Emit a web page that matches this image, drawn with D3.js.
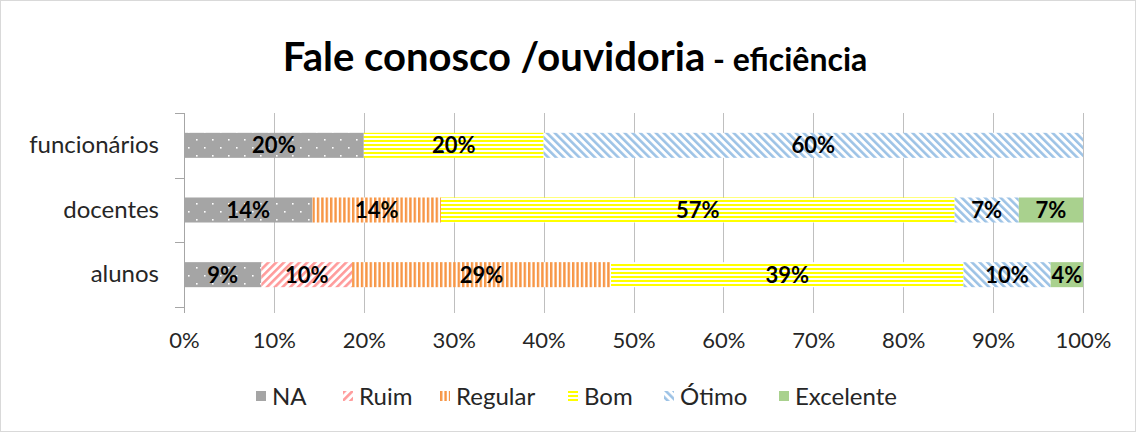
<!DOCTYPE html>
<html>
<head>
<meta charset="utf-8">
<script src="https://cdn.jsdelivr.net/npm/d3@7"></script>
<style>
  html, body { margin: 0; padding: 0; background: #fff; }
  svg { display: block; font-family: Lato, "Open Sans", sans-serif; }
</style>
</head>
<body>
<svg id="chart" width="1136" height="432"></svg>
<script>
// Categories (top to bottom) and the share of answers per rating, in percent
const categories = ["funcionários", "docentes", "alunos"];
const seriesNames = ["NA", "Ruim", "Regular", "Bom", "Ótimo", "Excelente"];
const na        = [20, 14.29, 8.6];
const ruim      = [0, 0, 10.1];
const regular   = [0, 14.29, 28.8];
const bom       = [20, 57.14, 39.2];
const otimo     = [60, 7.14, 9.7];
const excelente = [0, 7.14, 3.6];
const tickValues = [0, 10, 20, 30, 40, 50, 60, 70, 80, 90, 100];
const titleMain = "Fale conosco /ouvidoria";
const titleSub = "- eficiência";

const seriesValues = [na, ruim, regular, bom, otimo, excelente];
const rows = categories.map((c, i) => {
  const r = { cat: c };
  seriesNames.forEach((s, k) => { r[s] = seriesValues[k][i]; });
  return r;
});

const svg = d3.select("#chart");
const W = 1136, H = 432;
const plot = { left: 184, right: 1083, top: 113, bottom: 307 };

// chart area border
svg.append("rect")
  .attr("x", 0.5).attr("y", 0.5).attr("width", W - 1).attr("height", H - 1)
  .attr("fill", "#fff").attr("stroke", "#d9d9d9");

// fill patterns
const defs = svg.append("defs");
function stripePattern(id, color, period, width, angle) {
  const p = defs.append("pattern").attr("id", id)
    .attr("patternUnits", "userSpaceOnUse")
    .attr("width", period).attr("height", period)
    .attr("patternTransform", `rotate(${angle})`);
  p.append("rect").attr("width", period).attr("height", period).attr("fill", "#fff");
  p.append("rect").attr("x", 0).attr("y", 0).attr("width", width).attr("height", period).attr("fill", color);
}
// dotted grey
{
  const p = defs.append("pattern").attr("id", "pNA")
    .attr("patternUnits", "userSpaceOnUse")
    .attr("x", plot.left).attr("y", 0)
    .attr("width", 16).attr("height", 16);
  p.append("rect").attr("width", 16).attr("height", 16).attr("fill", "#a5a5a5");
  p.append("rect").attr("x", 4).attr("y", 3).attr("width", 1.6).attr("height", 1.6).attr("fill", "#fff");
  p.append("rect").attr("x", 12).attr("y", 11).attr("width", 1.6).attr("height", 1.6).attr("fill", "#fff");
}
stripePattern("pRuim", "#ff9b9b", 5.5, 2.6, 45);
stripePattern("pRegular", "#f79646", 4.4, 2.4, 0);
stripePattern("pBom", "#ffff00", 4, 2, 90);
stripePattern("pOtimo", "#9dc3e6", 5.5, 2.6, -45);

const fills = {
  "NA": "url(#pNA)",
  "Ruim": "url(#pRuim)",
  "Regular": "url(#pRegular)",
  "Bom": "url(#pBom)",
  "Ótimo": "url(#pOtimo)",
  "Excelente": "#a9d18e"
};

// scales
const x = d3.scaleLinear().domain([0, 100]).range([plot.left, plot.right]);
const y = d3.scaleBand().domain(categories).range([plot.top, plot.bottom])
  .paddingInner(0.613).paddingOuter(0.3065);

// gridlines and value labels
const xAxis = d3.axisBottom(x)
  .tickValues(tickValues)
  .tickFormat(d => d + "%")
  .tickSizeInner(-(plot.bottom + 6 - plot.top))
  .tickSizeOuter(0)
  .tickPadding(19);
const gx = svg.append("g")
  .attr("transform", `translate(0,${plot.bottom + 6})`)
  .call(xAxis);
gx.select(".domain").remove();
gx.selectAll(".tick line").attr("stroke", "#bfbfbf").attr("shape-rendering", "crispEdges");
gx.selectAll(".tick text")
  .attr("fill", "#262626")
  .style("font-size", "22px")
  .style("font-family", "Lato, sans-serif");

// category axis
const yAxis = d3.axisLeft(y).tickSize(0).tickPadding(25);
const gy = svg.append("g").attr("transform", `translate(${plot.left},0)`).call(yAxis);
gy.select(".domain").remove();
gy.selectAll(".tick text")
  .attr("fill", "#262626")
  .style("font-size", "24px")
  .style("font-family", "Lato, sans-serif");

// category axis line and ticks at band boundaries
svg.append("line")
  .attr("x1", plot.left + 0.5).attr("x2", plot.left + 0.5)
  .attr("y1", plot.top).attr("y2", plot.bottom + 6)
  .attr("stroke", "#a6a6a6");
const bounds = d3.range(categories.length + 1).map(i => plot.top + i * y.step());
svg.append("g").selectAll("line").data(bounds).join("line")
  .attr("x1", plot.left - 9).attr("x2", plot.left)
  .attr("y1", d => Math.round(d) + 0.5).attr("y2", d => Math.round(d) + 0.5)
  .attr("stroke", "#a6a6a6");

// stacked bars
const stack = d3.stack().keys(seriesNames);
const stacked = stack(rows);

const layers = svg.append("g").selectAll("g").data(stacked).join("g")
  .attr("fill", d => fills[d.key]);
layers.selectAll("rect").data(d => d.filter(s => s[1] - s[0] > 0)).join("rect")
  .attr("x", d => x(d[0]))
  .attr("y", d => y(d.data.cat))
  .attr("width", d => x(d[1]) - x(d[0]))
  .attr("height", y.bandwidth());

// value labels
const labels = svg.append("g");
stacked.forEach(layer => {
  layer.forEach(s => {
    const v = s[1] - s[0];
    if (v <= 0) return;
    labels.append("text")
      .attr("x", x((s[0] + s[1]) / 2))
      .attr("y", y(s.data.cat) + y.bandwidth() / 2)
      .attr("dy", "0.36em")
      .attr("text-anchor", "middle")
      .style("font-size", "22px")
      .style("font-weight", "bold")
      .attr("fill", "#000")
      .text(Math.round(v) + "%");
  });
});

// title
const title = svg.append("text")
  .attr("x", 575).attr("y", 71)
  .attr("text-anchor", "middle")
  .attr("fill", "#000")
  .style("font-weight", "bold");
title.append("tspan").style("font-size", "40px").text(titleMain);
title.append("tspan").style("font-size", "32px").text(" " + titleSub);

// legend
const legendX = [256, 343, 440, 568, 664, 779];
const legend = svg.append("g");
seriesNames.forEach((s, i) => {
  const g = legend.append("g").attr("transform", `translate(${legendX[i]},391)`);
  g.append("rect").attr("width", 10).attr("height", 10).attr("fill", fills[s]);
  g.append("text").attr("x", 16).attr("y", 5).attr("dy", "0.36em")
    .style("font-size", "24px").attr("fill", "#262626").text(s);
});
</script>
</body>
</html>
